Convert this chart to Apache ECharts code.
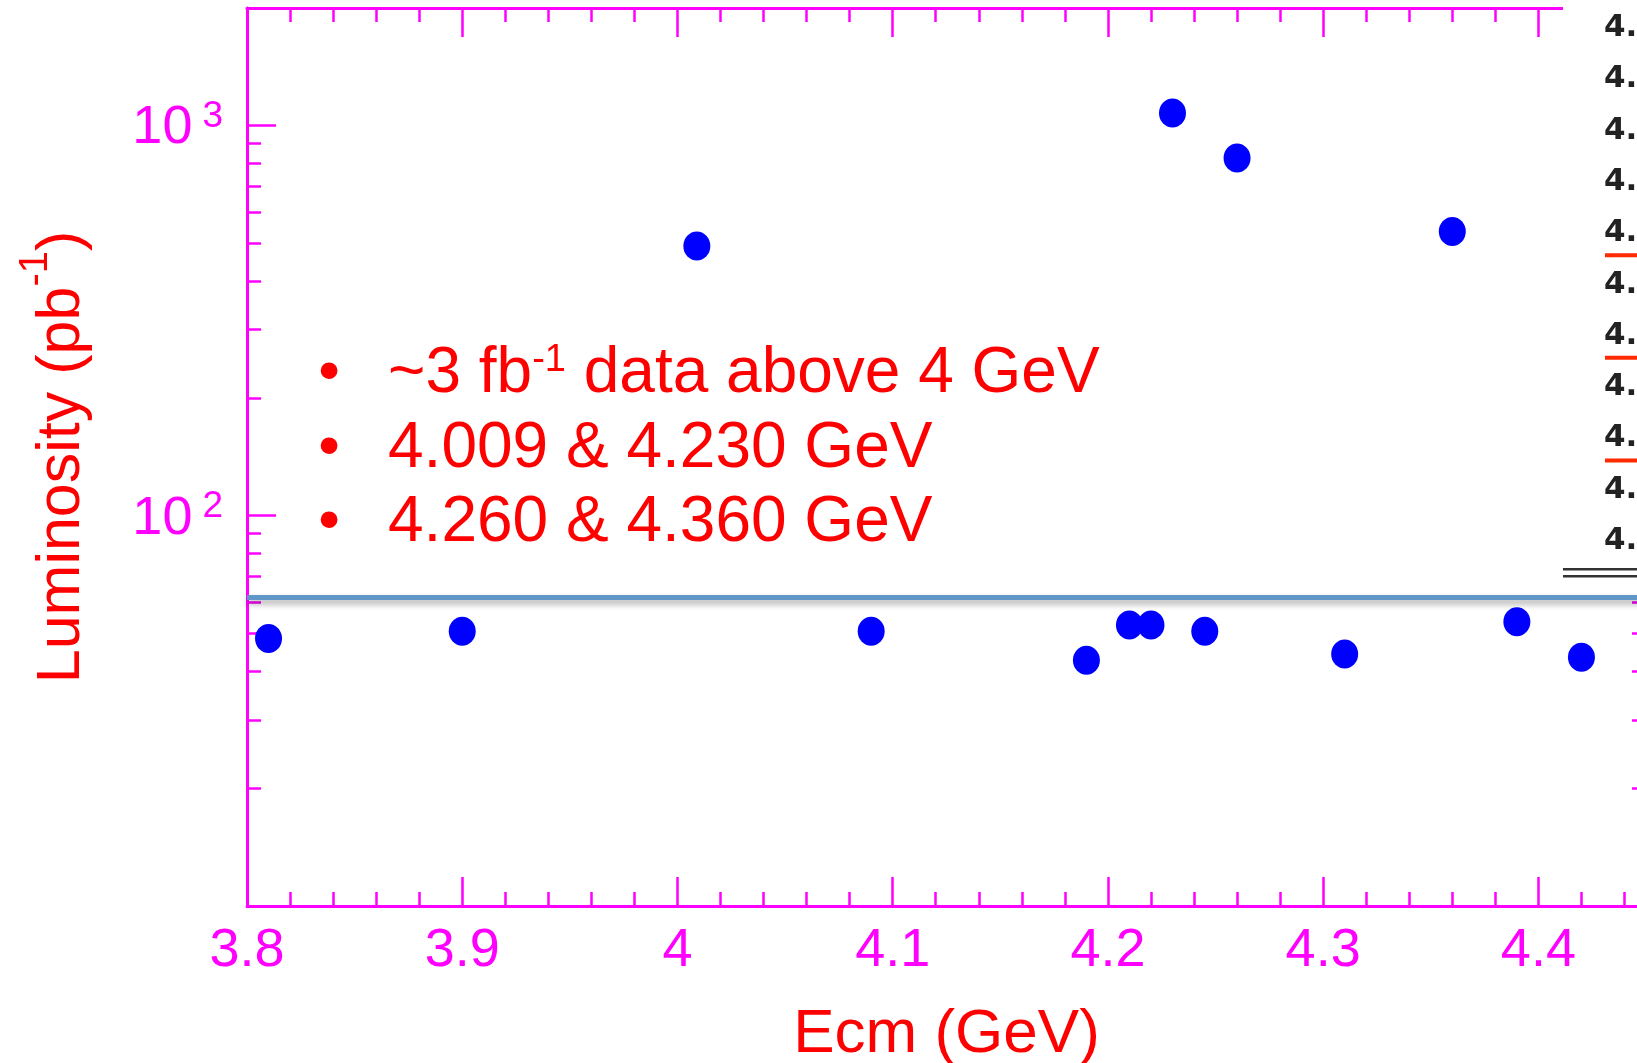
<!DOCTYPE html>
<html>
<head>
<meta charset="utf-8">
<title>Luminosity vs Ecm</title>
<script src="https://cdn.jsdelivr.net/npm/echarts@6/dist/echarts.min.js"></script>
<style>
  html, body { margin: 0; padding: 0; background: #fff; }
  #chart { width: 1637px; height: 1063px; }
</style>
</head>
<body>
<div id="chart"></div>
<script>
'use strict';

// data points: Ecm (GeV) and luminosity (pb^-1)
var ecm = [3.81, 3.90, 4.009, 4.09, 4.19, 4.21, 4.22, 4.23, 4.245, 4.26, 4.31, 4.36, 4.39, 4.42];
var lumi = [48.5, 50.6, 491, 50.6, 42.6, 52.5, 52.5, 1077, 50.6, 825, 44.2, 535, 53.5, 43.4];

// blue guide line
var cutLevel = 61.7;

// ticks
var xMajorTicks = [3.8, 3.9, 4.0, 4.1, 4.2, 4.3, 4.4];
var xMinorTicks = [];
for (var k = 382; k <= 444; k += 2) {
    if (k % 10 !== 0) xMinorTicks.push(k / 100);
}
var yMajorTicks = [10, 100, 1000];
var yLabelTicks = [100, 1000];
var yMinorTicks = [20, 30, 40, 50, 60, 70, 80, 90, 200, 300, 400, 500, 600, 700, 800, 900];

// bullet notes
var notes = [
    '{t|~3 fb}{s|-1}{t| data above 4 GeV}',
    '{t|4.009 & 4.230 GeV}',
    '{t|4.260 & 4.360 GeV}'
];

// table fragment pasted on the right
var tableRows = ['4.009', '4.090', '4.190', '4.210', '4.230', '4.245', '4.260', '4.310', '4.360', '4.390', '4.420'];
var underlinedRows = ['4.230', '4.260', '4.360'];

var MAGENTA = '#ff00ff';
var RED = '#ff0000';
var FONT = 'Liberation Sans, Arial, sans-serif';

var chart = echarts.init(document.getElementById('chart'));

function xAxisDef(pos, ticks, len, main) {
    return {
        type: 'value',
        position: pos,
        min: 3.8,
        max: 4.45,
        interval: 0.1,
        axisLine: {show: main, onZero: false, lineStyle: {color: MAGENTA, width: 3}},
        axisTick: {show: true, inside: true, length: len, customValues: ticks,
            lineStyle: {color: MAGENTA, width: 2.5}},
        axisLabel: {show: false},
        splitLine: {show: false}
    };
}

function yAxisDef(pos, ticks, len, main) {
    return {
        type: 'log',
        logBase: 10,
        position: pos,
        min: 10,
        max: 2000,
        axisLine: {show: main, onZero: false, lineStyle: {color: MAGENTA, width: 3}},
        axisTick: {show: true, inside: true, length: len, customValues: ticks,
            lineStyle: {color: MAGENTA, width: 2.5}},
        axisLabel: {show: false},
        splitLine: {show: false}
    };
}

var xAxes = [
    xAxisDef('bottom', xMajorTicks, 29, true),
    xAxisDef('bottom', xMinorTicks, 14, false),
    xAxisDef('top', xMajorTicks, 29, true),
    xAxisDef('top', xMinorTicks, 14, false)
];
xAxes[0].axisLabel = {
    show: true,
    customValues: xMajorTicks,
    color: MAGENTA,
    fontFamily: FONT,
    fontSize: 54,
    margin: 18
};
xAxes[0].name = 'Ecm (GeV)';
xAxes[0].nameLocation = 'middle';
xAxes[0].nameGap = 98;
xAxes[0].nameTextStyle = {color: RED, fontFamily: FONT, fontSize: 62};

var yAxes = [
    yAxisDef('left', yMajorTicks, 29, true),
    yAxisDef('left', yMinorTicks, 14, false),
    yAxisDef('right', yMajorTicks, 29, true),
    yAxisDef('right', yMinorTicks, 14, false)
];
yAxes[0].axisLabel = {
    show: true,
    customValues: yLabelTicks,
    margin: 24,
    formatter: function (v) {
        var e = Math.round(Math.log(v) / Math.LN10);
        return '{b|10}{s|' + e + '}';
    },
    rich: {
        b: {fontSize: 54, lineHeight: 54, padding: [32, 0, 26, 0], color: MAGENTA, fontFamily: FONT},
        s: {fontSize: 37, lineHeight: 37, verticalAlign: 'top', padding: [0, 0, 0, 10], color: MAGENTA, fontFamily: FONT}
    }
};
yAxes[0].name = '{t|Luminosity (pb}{s|-1}{t|)}';
yAxes[0].nameLocation = 'middle';
yAxes[0].nameRotate = 90;
yAxes[0].nameGap = 170;
yAxes[0].nameTextStyle = {
    rich: {
        t: {fontSize: 61, lineHeight: 61, padding: [31, 0, 0, 0], color: RED, fontFamily: FONT},
        s: {fontSize: 40, lineHeight: 40, verticalAlign: 'top', color: RED, fontFamily: FONT}
    }
};

// annotation graphics: bullet list and the pasted table strip
var graphics = [];
var noteY = [374, 449, 523];
notes.forEach(function (txt, i) {
    graphics.push({
        type: 'text', z: 50,
        style: {x: 329, y: noteY[i], text: '\u2022', fill: RED, font: '62px ' + FONT,
            align: 'center', verticalAlign: 'middle', textAlign: 'center', textVerticalAlign: 'middle'}
    });
    graphics.push({
        type: 'text', z: 50,
        style: {
            x: 388, y: noteY[i], text: txt, fill: RED,
            align: 'left', verticalAlign: 'middle', textAlign: 'left', textVerticalAlign: 'middle',
            rich: {
                t: {fontSize: 64, lineHeight: 64, fontFamily: FONT, fill: RED},
                s: {fontSize: 38, lineHeight: 46, verticalAlign: 'top', fontFamily: FONT, fill: RED}
            }
        }
    });
});

graphics.push({
    type: 'rect', z: 100,
    shape: {x: 1563, y: 0, width: 80, height: 582},
    style: {fill: '#ffffff'}
});
tableRows.forEach(function (row, i) {
    var y = 28 + i * 51.3;
    graphics.push({
        type: 'text', z: 101,
        style: {x: 1604, y: y, text: row, fill: '#222', font: 'bold 31px DejaVu Sans',
            align: 'left', verticalAlign: 'middle', textAlign: 'left', textVerticalAlign: 'middle'}
    });
    if (underlinedRows.indexOf(row) >= 0) {
        graphics.push({
            type: 'rect', z: 101,
            shape: {x: 1605, y: y + 20, width: 40, height: 4},
            style: {fill: '#ff2a00'}
        });
    }
});
graphics.push({
    type: 'rect', z: 101,
    shape: {x: 1563, y: 568, width: 80, height: 2.5},
    style: {fill: '#333'}
});
graphics.push({
    type: 'rect', z: 101,
    shape: {x: 1563, y: 575, width: 80, height: 2.5},
    style: {fill: '#333'}
});

var option = {
    animation: false,
    backgroundColor: '#ffffff',
    grid: {left: 247, right: -9, top: 8, bottom: 157, outerBoundsMode: 'none'},
    xAxis: xAxes,
    yAxis: yAxes,
    graphic: graphics,
    series: [
        {
            type: 'scatter',
            xAxisIndex: 0,
            yAxisIndex: 0,
            symbol: 'circle',
            symbolSize: [27, 29],
            itemStyle: {color: '#0000ff', opacity: 1},
            data: ecm.map(function (x, i) { return [x, lumi[i]]; }),
            markLine: {
                silent: true,
                symbol: ['none', 'none'],
                label: {show: false},
                lineStyle: {color: '#6096c8', width: 5, type: 'solid',
                    shadowColor: 'rgba(0,0,0,0.35)', shadowBlur: 6, shadowOffsetY: 4},
                data: [{yAxis: cutLevel}]
            }
        }
    ]
};
chart.setOption(option);
</script>
</body>
</html>
